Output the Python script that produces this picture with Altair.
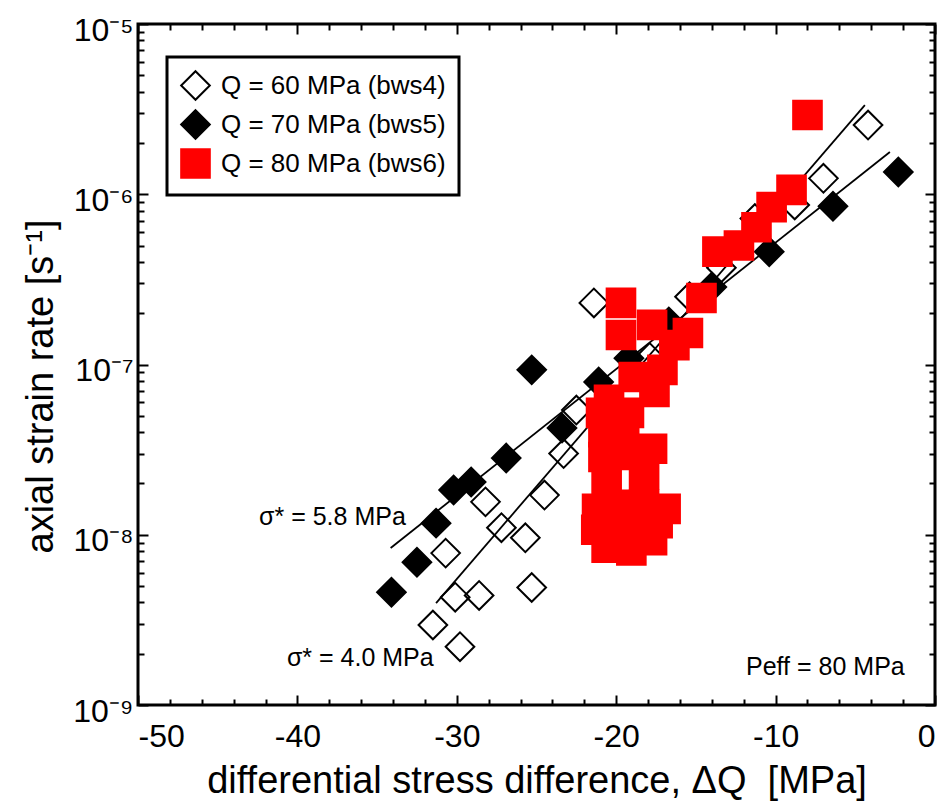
import altair as alt
import pandas as pd

FONT = "Liberation Sans"

series_names = ["Q = 60 MPa (bws4)", "Q = 70 MPa (bws5)", "Q = 80 MPa (bws6)"]

# bws4 (open diamonds)
bws4_x = [-4.2, -7.0, -8.8, -11.3, -13.4, -15.4, -21.4, -17.9, -22.5, -23.3,
          -24.5, -28.2, -27.2, -25.7, -30.7, -30.1, -28.6, -25.3, -31.5, -29.8]
bws4_y = [2.55e-6, 1.24e-6, 8.65e-7, 7.2e-7, 3.7e-7, 2.5e-7, 2.3e-7, 1.1e-7, 5.4e-8, 3.0e-8,
          1.71e-8, 1.56e-8, 1.1e-8, 9.6e-9, 7.8e-9, 4.3e-9, 4.4e-9, 4.9e-9, 2.95e-9, 2.2e-9]

# bws5 (filled diamonds)
bws5_x = [-2.3, -6.4, -10.4, -14.0, -16.7, -19.2, -21.1, -25.3, -23.4, -26.9,
          -29.1, -30.2, -31.3, -32.5, -34.1]
bws5_y = [1.35e-6, 8.5e-7, 4.6e-7, 2.85e-7, 1.78e-7, 1.09e-7, 7.9e-8, 9.3e-8, 4.24e-8, 2.82e-8,
          2.04e-8, 1.83e-8, 1.17e-8, 6.9e-9, 4.6e-9]

# bws6 (red squares)
bws6_x = [-8.0, -9.0, -10.25, -11.2, -12.3, -13.65, -14.65, -19.7, -19.7, -17.75,
          -15.5, -16.35, -17.1, -18.9, -17.6, -20.45, -20.95, -19.2, -19.5, -20.8,
          -17.75, -20.8, -19.2, -20.6, -18.25, -16.9, -21.2, -19.8, -18.25, -21.25,
          -19.8, -18.25, -17.4, -20.6, -19.05, -17.75]
bws6_y = [2.92e-6, 1.06e-6, 8.4e-7, 6.4e-7, 5.0e-7, 4.6e-7, 2.46e-7, 2.3e-7, 1.49e-7, 1.71e-7,
          1.53e-7, 1.3e-7, 9.3e-8, 8.45e-8, 6.9e-8, 6.2e-8, 5.2e-8, 5.2e-8, 4.4e-8, 4.0e-8,
          3.2e-8, 2.86e-8, 2.94e-8, 2.1e-8, 2.25e-8, 1.42e-8, 1.42e-8, 1.5e-8, 1.5e-8, 1.07e-8,
          1.07e-8, 1.07e-8, 1.17e-8, 8.4e-9, 8.1e-9, 9.3e-9]

# fitted lines
fit_names = ["s58", "s58", "s40", "s40"]
fit_x = [-34.15, -2.83, -31.3, -4.4]
fit_y = [8.36e-9, 1.77e-6, 3.97e-9, 3.34e-6]

# annotations
ann_x = [-33.2, -31.45, -1.9]
ann_y = [1.27e-8, 1.89e-9, 1.67e-9]
ann_text = ["σ* = 5.8 MPa", "σ* = 4.0 MPa", "Peff = 80 MPa"]

# ticks
x_major = [-50, -40, -30, -20, -10, 0]
x_minor = [v for v in range(-48, 0, 2) if v % 10 != 0]
y_major = [1e-9, 1e-8, 1e-7, 1e-6, 1e-5]
y_minor = [k * 10.0 ** d for d in range(-9, -5) for k in range(2, 10)]

rows = []
for name, xs, ys in zip(series_names, [bws4_x, bws5_x, bws6_x], [bws4_y, bws5_y, bws6_y]):
    for xv, yv in zip(xs, ys):
        rows.append({"series": name, "dq": xv, "rate": yv})
pts = pd.DataFrame(rows)
fits = pd.DataFrame({"fit": fit_names, "dq": fit_x, "rate": fit_y})
anns = pd.DataFrame({"dq": ann_x, "rate": ann_y, "txt": ann_text})
ghost = pd.DataFrame({"dq": [-25.0], "rate": [1e-7]})

xscale = alt.Scale(domain=[-50, 0], nice=False, zero=False)
yscale = alt.Scale(type="log", domain=[1e-9, 1e-5], nice=False)

ylabel_expr = ("datum.value > 5e-6 ? '10⁻⁵' : datum.value > 5e-7 ? '10⁻⁶' : "
               "datum.value > 5e-8 ? '10⁻⁷' : datum.value > 5e-9 ? '10⁻⁸' : '10⁻⁹'")


def tick_axis(orient, values, size, labels=False, **kw):
    base = dict(orient=orient, values=values, tickSize=size, offset=-size, domain=False,
                grid=False, tickColor="black", tickWidth=2, labels=labels)
    base.update(kw)
    return alt.Axis(**base)


leg = alt.Legend(title=None, orient="none", legendX=29, legendY=33,
                 labelFontSize=26, labelFont=FONT, labelColor="black", labelLimit=500,
                 rowPadding=2, labelOffset=10, padding=13,
                 strokeColor="black", symbolStrokeWidth=2)

points = alt.Chart(pts).mark_point(filled=True, strokeWidth=2, opacity=1).encode(
    x=alt.X("dq:Q", scale=xscale,
            axis=tick_axis("bottom", x_major, 10, labels=True,
                           labelExpr="'' + datum.value", labelFontSize=32, labelFont=FONT,
                           labelColor="black", labelPadding=16,
                           title="differential stress difference, ΔQ\u00a0\u00a0[MPa]",
                           titleFont=FONT, titleFontSize=38, titleFontWeight="normal",
                           titleColor="black", titlePadding=10)),
    y=alt.Y("rate:Q", scale=yscale,
            axis=tick_axis("left", y_major, 10, labels=True,
                           labelExpr=ylabel_expr, labelFontSize=32, labelFont=FONT,
                           labelColor="black", labelPadding=5, labelOffset=6,
                           title="axial strain rate [s⁻¹]",
                           titleFont=FONT, titleFontSize=38, titleFontWeight="normal",
                           titleColor="black", titlePadding=12, titleY=362)),
    shape=alt.Shape("series:N", scale=alt.Scale(domain=series_names, range=["diamond", "diamond", "square"]), legend=leg),
    fill=alt.Fill("series:N", scale=alt.Scale(domain=series_names, range=["transparent", "black", "#ff0000"]), legend=leg),
    stroke=alt.Stroke("series:N", scale=alt.Scale(domain=series_names, range=["black", "black", "#ff0000"]), legend=leg),
    size=alt.Size("series:N", scale=alt.Scale(domain=series_names, range=[820, 820, 470]), legend=leg),
)

lines = alt.Chart(fits).mark_line(color="black", strokeWidth=1.8).encode(
    x=alt.X("dq:Q", scale=xscale, axis=None),
    y=alt.Y("rate:Q", scale=yscale, axis=None),
    detail="fit:N",
)

texts = alt.Chart(anns).mark_text(align="right", baseline="middle", fontSize=25,
                                   font=FONT, color="black").encode(
    x=alt.X("dq:Q", scale=xscale, axis=None),
    y=alt.Y("rate:Q", scale=yscale, axis=None),
    text="txt:N",
)


def ghost_layer(xaxis, yaxis):
    return alt.Chart(ghost).mark_point(opacity=0).encode(
        x=alt.X("dq:Q", scale=xscale, axis=xaxis, title=None),
        y=alt.Y("rate:Q", scale=yscale, axis=yaxis, title=None),
    )


g1 = ghost_layer(tick_axis("bottom", x_minor, 6), tick_axis("left", y_minor, 6))
g2 = ghost_layer(tick_axis("top", x_major, 10), tick_axis("right", y_major, 10))
g3 = ghost_layer(tick_axis("top", x_minor, 6), tick_axis("right", y_minor, 6))

chart = alt.layer(lines, points, texts, g1, g2, g3).resolve_axis(
    x="independent", y="independent"
).properties(
    width=797, height=681,
    padding={"left": 130, "top": 16, "right": 6, "bottom": 96},
    autosize=alt.AutoSizeParams(type="none"),
).configure_view(
    stroke="black", strokeWidth=3
).configure_legend(
    strokeColor="black", strokeWidth=3
)

chart.save("out.html", embed_options={"renderer": "svg", "actions": False})
